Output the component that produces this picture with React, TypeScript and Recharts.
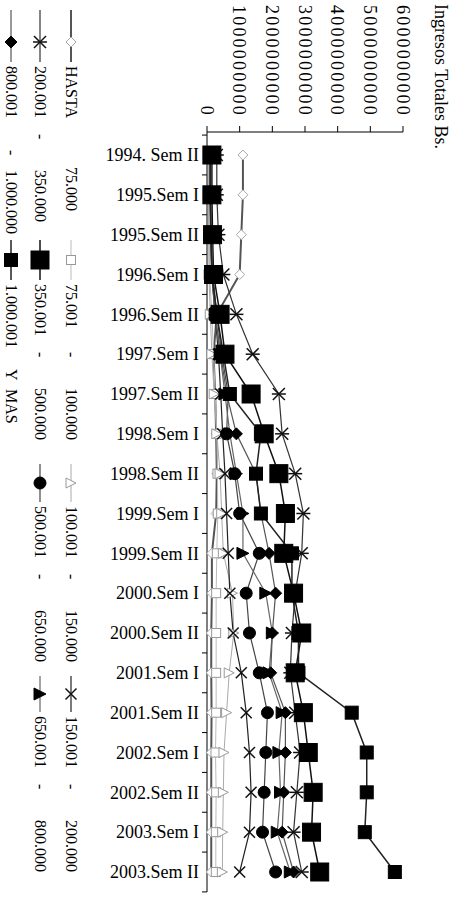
import React from 'react';
import { LineChart, Line, XAxis, YAxis } from 'recharts';

// chart is drawn in landscape and turned 90deg clockwise, like the scan
const W = 912;
const H = 458;
const FONT = "'Liberation Serif', 'DejaVu Serif', serif";

const categories = [
  '1994. Sem II', '1995.Sem I', '1995.Sem II', '1996.Sem I', '1996.Sem II',
  '1997.Sem I', '1997.Sem II', '1998.Sem I', '1998.Sem II', '1999.Sem I',
  '1999.Sem II', '2000.Sem I', '2000.Sem II', '2001.Sem I', '2001.Sem II',
  '2002.Sem I', '2002.Sem II', '2003.Sem I', '2003.Sem II'
];

// values in millions of Bs.
const hasta75 = [1100, 1100, 1050, 1000, 300, 200, 250, 280, 300, 280, 150, 150, 130, 130, 140, 130, 130, 130, 130];
const r75to100 = [60, 60, 70, 80, 150, 200, 250, 300, 320, 330, 300, 280, 280, 280, 280, 260, 280, 270, 270];
const r100to150 = [40, 40, 50, 60, 100, 150, 220, 300, 400, 450, 500, 780, 820, 680, 600, 520, 500, 480, 470];
const r150to200 = [100, 100, 120, 150, 250, 350, 420, 480, 550, 600, 650, 700, 800, 1050, 1200, 1300, 1350, 1300, 1000];
const r200to350 = [300, 300, 350, 500, 900, 1400, 2200, 2300, 2700, 2950, 2900, 2700, 2600, 2550, 2700, 2850, 2750, 2650, 2900];
const r350to500 = [150, 150, 170, 200, 400, 550, 1350, 1750, 2200, 2400, 2350, 2650, 2900, 2700, 2950, 3100, 3250, 3200, 3450];
const r500to650 = [120, 120, 140, 180, 300, 450, 650, 600, 850, 1000, 1600, 1200, 1300, 1600, 1850, 1800, 1750, 1700, 2100];
const r650to800 = [100, 100, 120, 150, 250, 400, 550, 700, 900, 1100, 1100, 1800, 2000, 1900, 2300, 2200, 2250, 2150, 2550];
const r800to1000 = [90, 90, 110, 140, 250, 420, 600, 900, 1500, 1650, 1900, 2100, 2000, 1950, 2400, 2400, 2350, 2300, 2650];
const r1000plus = [100, 100, 120, 150, 300, 500, 700, 1650, 1500, 1650, 2600, 2600, 2800, 2800, 4430, 4890, 4890, 4830, 5750];

const valueTicks = [0, 1000000000, 2000000000, 3000000000, 4000000000, 5000000000, 6000000000];

type Shape = 'diamond' | 'square' | 'triangle' | 'x' | 'star' | 'circle';

interface SeriesDef {
  key: string;
  values: number[];
  label: string[]; // text pieces, placed at fixed offsets
  shape: Shape;
  size: number;
  fill: string;
  stroke: string;
  line: string;
  width: number;
}

const series: SeriesDef[] = [
  { key: 's1', values: hasta75, label: ['HASTA', '', '75.000'], shape: 'diamond', size: 10, fill: '#fff', stroke: '#aaa', line: '#555', width: 2 },
  { key: 's2', values: r75to100, label: ['75.001', '-', '100.000'], shape: 'square', size: 9, fill: '#fff', stroke: '#999', line: '#bbb', width: 1 },
  { key: 's3', values: r100to150, label: ['100.001', '-', '150.000'], shape: 'triangle', size: 10, fill: '#fff', stroke: '#999', line: '#aaa', width: 1 },
  { key: 's4', values: r150to200, label: ['150.001', '-', '200.000'], shape: 'x', size: 11, fill: 'none', stroke: '#111', line: '#222', width: 1.2 },
  { key: 's5', values: r200to350, label: ['200.001', '-', '350.000'], shape: 'star', size: 12, fill: 'none', stroke: '#111', line: '#333', width: 1.2 },
  { key: 's6', values: r350to500, label: ['350.001', '-', '500.000'], shape: 'square', size: 18, fill: '#000', stroke: '#000', line: '#111', width: 1.5 },
  { key: 's7', values: r500to650, label: ['500.001', '-', '650.000'], shape: 'circle', size: 12, fill: '#000', stroke: '#000', line: '#444', width: 1.2 },
  { key: 's8', values: r650to800, label: ['650.001', '-', '800.000'], shape: 'triangle', size: 12, fill: '#000', stroke: '#000', line: '#666', width: 1.2 },
  { key: 's9', values: r800to1000, label: ['800.001', '-', '1.000.000'], shape: 'diamond', size: 12, fill: '#000', stroke: '#000', line: '#555', width: 1.2 },
  { key: 's10', values: r1000plus, label: ['1.000.001', 'Y', 'MAS'], shape: 'square', size: 13, fill: '#000', stroke: '#000', line: '#222', width: 1.5 }
];

const data = categories.map((cat, i) => {
  const row: Record<string, string | number> = { cat };
  series.forEach(s => { row[s.key] = s.values[i] * 1000000; });
  return row;
});

const drawMarker = (shape: Shape, cx: number, cy: number, size: number, fill: string, stroke: string, key?: string | number) => {
  const h = size / 2;
  switch (shape) {
    case 'diamond':
      return <polygon key={key} points={`${cx},${cy - h} ${cx + h},${cy} ${cx},${cy + h} ${cx - h},${cy}`} fill={fill} stroke={stroke} strokeWidth={1} />;
    case 'square':
      return <rect key={key} x={cx - h} y={cy - h} width={size} height={size} fill={fill} stroke={stroke} strokeWidth={1} />;
    case 'triangle':
      return <polygon key={key} points={`${cx},${cy - h} ${cx + h},${cy + h} ${cx - h},${cy + h}`} fill={fill} stroke={stroke} strokeWidth={1} />;
    case 'circle':
      return <circle key={key} cx={cx} cy={cy} r={h} fill={fill} stroke={stroke} strokeWidth={1} />;
    case 'x':
      return (
        <g key={key} stroke={stroke} strokeWidth={1.5}>
          <line x1={cx - h} y1={cy - h} x2={cx + h} y2={cy + h} />
          <line x1={cx - h} y1={cy + h} x2={cx + h} y2={cy - h} />
        </g>
      );
    default:
      return (
        <g key={key} stroke={stroke} strokeWidth={1.5}>
          <line x1={cx - h} y1={cy - h} x2={cx + h} y2={cy + h} />
          <line x1={cx - h} y1={cy + h} x2={cx + h} y2={cy - h} />
          <line x1={cx} y1={cy - h - 1} x2={cx} y2={cy + h + 1} />
        </g>
      );
  }
};

const makeDot = (s: SeriesDef) => (props: any) => {
  const { cx, cy, index } = props;
  if (cx == null || cy == null) return <g key={index} />;
  return drawMarker(s.shape, cx, cy, s.size, s.fill, s.stroke, index);
};

const PAD_L = 23;
const PAD_R = 20;
const LEFT = 132;
const RIGHT = 20;
const STEP = (W - LEFT - RIGHT - PAD_L - PAD_R) / (categories.length - 1);

const CatTick = (props: any) => {
  const { x, y, payload, index } = props;
  const last = index === categories.length - 1;
  return (
    <g>
      <line x1={x - STEP / 2} y1={y - 8} x2={x - STEP / 2} y2={y - 3} stroke="#000" />
      {last && <line x1={x + STEP / 2} y1={y - 8} x2={x + STEP / 2} y2={y - 3} stroke="#000" />}
      <text x={x} y={y} transform={`rotate(-90 ${x} ${y})`} textAnchor="end" dy="0.35em" fontSize={18} fontFamily={FONT} fill="#000">
        {payload.value}
      </text>
    </g>
  );
};

// legend slots in the landscape frame: [line start, line end]
const legendCols = [[10, 62], [240, 280], [464, 502], [676, 712]];
const legendRows = [387, 418, 447];
const textOffsets: Record<string, number[]> = {
  HASTA: [0, 0, 101],
  Y: [0, 85, 105],
  '-': [0, 68, 104],
  long: [0, 84, 104]
};

const Legend10 = () => (
  <svg width={W} height={H} style={{ position: 'absolute', left: 0, top: 0, pointerEvents: 'none' }}>
    <text x={4} y={23} fontSize={18} fontFamily={FONT} fill="#000">Ingresos Totales Bs.</text>
    {series.map((s, i) => {
      const row = Math.floor(i / 4);
      const col = i % 4;
      const [x0, x1] = legendCols[col];
      const cy = legendRows[row];
      const kind = s.label[0] === 'HASTA' ? 'HASTA' : s.label[1] === 'Y' ? 'Y' : s.label[2].length > 7 ? 'long' : '-';
      const offs = textOffsets[kind];
      return (
        <g key={s.key}>
          <line x1={x0} y1={cy} x2={x1} y2={cy} stroke={s.line} strokeWidth={s.width} />
          {drawMarker(s.shape, (x0 + x1) / 2 + (col === 0 ? 6 : 0), cy, s.size, s.fill, s.stroke)}
          {s.label.map((t, j) => t ? (
            <text key={j} x={x1 + 4 + offs[j]} y={cy + 5.5} fontSize={16} fontFamily={FONT} fill="#000">{t}</text>
          ) : null)}
        </g>
      );
    })}
  </svg>
);

export default function App() {
  return (
    <div
      style={{
        position: 'absolute', left: 0, top: 0, width: W, height: H,
        transformOrigin: '0 0', transform: `translateX(${H}px) rotate(90deg)`,
        background: '#fff', fontFamily: FONT
      }}
    >
      <LineChart width={W} height={H} data={data} margin={{ top: 55, right: RIGHT, bottom: 0, left: 0 }}>
        <XAxis
          dataKey="cat"
          interval={0}
          height={207}
          padding={{ left: PAD_L, right: PAD_R }}
          tick={<CatTick />}
          tickLine={false}
          tickSize={8}
          tickMargin={0}
          axisLine={{ stroke: '#000' }}
        />
        <YAxis
          width={LEFT}
          domain={[0, 6000000000]}
          ticks={valueTicks}
          interval={0}
          tickFormatter={(v: number) => v.toFixed(0)}
          tick={{ fill: '#000', fontSize: 18, fontFamily: FONT, letterSpacing: 2.2 }}
          tickSize={6}
          tickMargin={9}
          axisLine={{ stroke: '#000' }}
          tickLine={{ stroke: '#000' }}
        />
        {series.map(s => (
          <Line
            key={s.key}
            dataKey={s.key}
            type="linear"
            stroke={s.line}
            strokeWidth={s.width}
            dot={makeDot(s)}
            activeDot={false}
            isAnimationActive={false}
          />
        ))}
      </LineChart>
      <Legend10 />
    </div>
  );
}
